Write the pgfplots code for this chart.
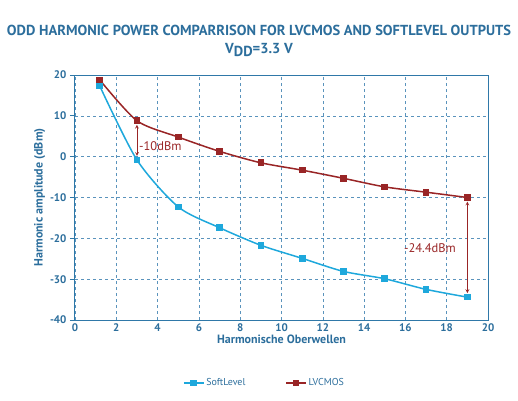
\documentclass[border=0pt]{standalone}
\usepackage{pgfplots}
\pgfplotsset{compat=1.18}
\usepackage{fontspec}
\setmainfont{PT Sans}
\definecolor{axblue}{HTML}{2F78A8}
\definecolor{gridblue}{HTML}{5A93BC}
\definecolor{txtblue}{HTML}{2C6E9C}
\definecolor{soft}{HTML}{1EA8DC}
\definecolor{lvc}{HTML}{992526}
\begin{document}
\begin{tikzpicture}
\path[use as bounding box] (-75pt,-80pt) rectangle (443pt,320pt);
\node[font=\fontsize{14.5}{16}\selectfont\bfseries, text=txtblue] at (184pt,290pt)
  {ODD HARMONIC POWER COMPARRISON FOR LVCMOS AND SOFTLEVEL OUTPUTS};
\node[font=\fontsize{14.5}{16}\selectfont\bfseries, text=txtblue] at (184pt,270pt)
  {V\raisebox{-0.35ex}{DD}=3.3 V};
\begin{axis}[
    scale only axis,
    width=413pt, height=245pt,
    xmin=0, xmax=20, ymin=-40, ymax=20,
    xtick={0,2,...,20}, ytick={-40,-30,...,20},
    axis line style={axblue, line width=1pt},
    ytick style={axblue, line width=0.8pt},
    xtick style={draw=none},
    ytick pos=left,
    major tick length=5pt,
    ytick align=outside,
    grid=major,
    major grid style={gridblue, dashed, line width=0.6pt},
    ticklabel style={font=\fontsize{11}{13}\selectfont\bfseries, text=txtblue},
    /pgf/number format/assume math mode=true,
    xlabel={Harmonische Oberwellen},
    ylabel={Harmonic amplitude (dBm)},
    label style={font=\fontsize{12}{14}\selectfont\bfseries, text=txtblue},
    xlabel style={yshift=3pt},
    ylabel style={yshift=-2pt},
    legend columns=2,
    legend style={at={(0.459,-0.257)}, anchor=center, draw=none, fill=none,
      font=\fontsize{10}{12}\selectfont, text=txtblue},
    /tikz/every even column/.append style={column sep=38pt},
    legend image code/.code={%
      \draw[#1, mark=none, line width=1.2pt] (0cm,0cm) -- (0.7cm,0cm);
      \draw[#1, only marks] plot coordinates {(0.35cm,0cm)};},
    clip=false,
]
\addplot[soft, line width=1.5pt, smooth, tension=0.45, mark=square*, mark size=2.6pt, mark options={solid}]
coordinates {
(1.2,17.3) (3,-0.8) (5,-12.3) (7,-17.4) (9,-21.7) (11,-24.9) (13,-28.1) (15,-29.9) (17,-32.5) (19,-34.4)
};
\addplot[lvc, line width=1.5pt, smooth, tension=0.45, mark=square*, mark size=2.6pt, mark options={solid}]
coordinates {
(1.2,18.8) (3,8.8) (5,4.8) (7,1.3) (9,-1.5) (11,-3.3) (13,-5.3) (15,-7.4) (17,-8.7) (19,-10)
};
\legend{SoftLevel, LVCMOS}
\draw[lvc, line width=0.7pt, <->, >=stealth] (axis cs:3,7.8) -- (axis cs:3,0.2);
\node[lvc, anchor=west, inner sep=1pt, font=\fontsize{12.5}{14}\selectfont] at (axis cs:3.05,2.6) {-10dBm};
\draw[lvc, line width=0.7pt, <->, >=stealth] (axis cs:19,-11) -- (axis cs:19,-33.4);
\node[lvc, anchor=east, inner sep=1pt, font=\fontsize{12.5}{14}\selectfont] at (axis cs:18.5,-22.4) {-24.4dBm};
\end{axis}
\end{tikzpicture}
\end{document}
